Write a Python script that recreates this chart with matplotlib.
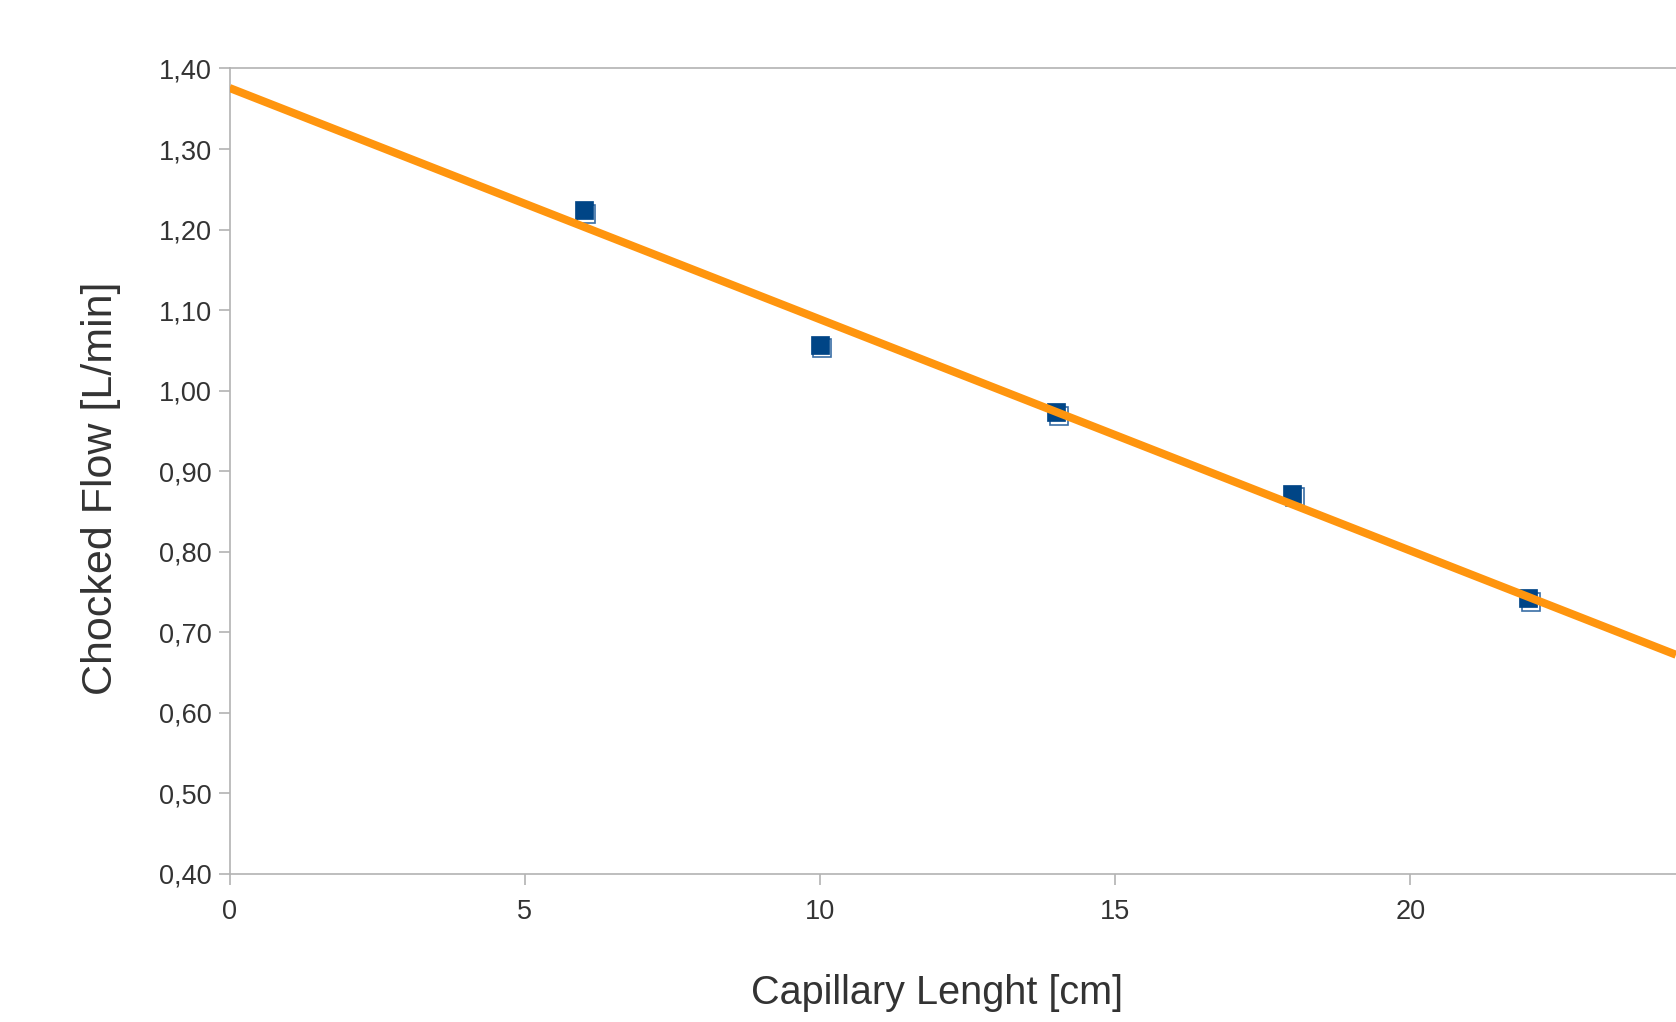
import numpy as np
import matplotlib
matplotlib.use("Agg")
import matplotlib.pyplot as plt
from matplotlib.transforms import offset_copy

# measured points
length_cm = [6, 10, 14, 18, 22]
flow_lmin = [1.224, 1.057, 0.973, 0.872, 0.742]

yticks = [0.40, 0.50, 0.60, 0.70, 0.80, 0.90, 1.00, 1.10, 1.20, 1.30, 1.40]
xticks = [0, 5, 10, 15, 20]

blue = "#004586"
orange = "#ff950e"
grey = "#b3b3b3"
txt = "#333333"
fam = ["Liberation Sans", "DejaVu Sans"]

fig = plt.figure(figsize=(16.76, 10.22), dpi=100)
ax = fig.add_axes([0.137, 0.145, 0.863, 0.788])

# linear trend line
m, b = np.polyfit(length_cm, flow_lmin, 1)
xl = np.array([0, 24.5])
ax.plot(xl, m * xl + b, color=orange, lw=5.8, zorder=4, solid_capstyle="butt")

# square markers with a small offset "shadow"
shadow = offset_copy(ax.transData, fig=fig, x=1.8, y=-2.5, units="points")
ax.plot(length_cm, flow_lmin, "s", ms=13.6, mfc="white", mec="#3a6ea5", mew=1.2,
        transform=shadow, zorder=3)
ax.plot(length_cm, flow_lmin, "s", ms=13.6, mfc=blue, mec=blue, mew=0.5, zorder=3.5)

ax.set_xlim(0, 24.5)
ax.set_ylim(0.40, 1.40)
ax.set_xticks(xticks)
ax.set_yticks(yticks)
ax.set_yticklabels([f"{v:.2f}".replace(".", ",") for v in yticks])
ax.set_xticklabels([str(v) for v in xticks])

for s in ["left", "bottom", "top"]:
    ax.spines[s].set_color(grey)
    ax.spines[s].set_linewidth(1.2)
ax.spines["right"].set_visible(False)

ax.tick_params(axis="both", direction="out", length=8, width=1.2, color=grey,
               labelcolor=txt, labelsize=19.5)
ax.tick_params(axis="x", pad=10)
ax.tick_params(axis="y", pad=5)
for lab in ax.get_xticklabels() + ax.get_yticklabels():
    lab.set_family(fam)

ax.set_xlabel("Capillary Lenght [cm]", fontsize=28.5, color=txt, family=fam)
ax.set_ylabel("Chocked Flow [L/min]", fontsize=31, color=txt, family=fam)
ax.xaxis.set_label_coords(0.489, -0.124)
ax.yaxis.set_label_coords(-0.075, 0.479)

fig.savefig("out.png", dpi=100)
